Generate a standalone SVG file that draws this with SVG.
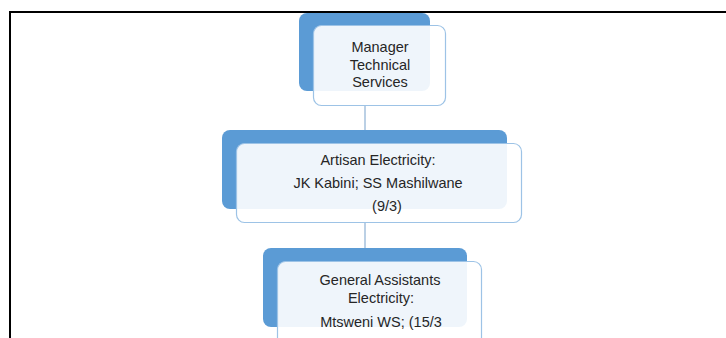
<svg xmlns="http://www.w3.org/2000/svg" width="726" height="338" viewBox="0 0 726 338">
<style>
.back{fill:#5b9bd5;}
.front{fill:#ffffff;fill-opacity:0.9;stroke:#9dc3e6;stroke-width:1.2;}
.lbl{font-family:"Liberation Sans",Arial,sans-serif;font-size:14.5px;fill:#262626;text-anchor:middle;}
.conn{stroke:#a5c0dc;stroke-width:1.5;fill:none;}
.border{stroke:#000000;stroke-width:2;fill:none;}
</style>
<rect width="726" height="338" fill="#ffffff"/>
<g id="frame">
<path class="border" d="M10 338 V12 H726"/>
</g>
<g id="connectors">
<line class="conn" x1="365" y1="106" x2="365" y2="131"/>
<line class="conn" x1="365" y1="223" x2="365" y2="249"/>
</g>
<g id="node-manager">
<rect class="back" x="299" y="13" width="131" height="78" rx="8"/>
<rect class="front" x="313.5" y="25.5" width="132" height="80" rx="8"/>
<text class="lbl" x="380" y="52">Manager</text>
<text class="lbl" x="380" y="70">Technical</text>
<text class="lbl" x="380" y="87">Services</text>
</g>
<g id="node-artisan">
<rect class="back" x="222" y="130" width="285" height="79" rx="8"/>
<rect class="front" x="236.5" y="143.5" width="285" height="79" rx="8"/>
<text class="lbl" x="378" y="165">Artisan Electricity:</text>
<text class="lbl" x="378" y="188">JK Kabini; SS Mashilwane</text>
<text class="lbl" x="387" y="211">(9/3)</text>
</g>
<g id="node-general">
<rect class="back" x="263" y="248" width="204" height="79" rx="8"/>
<rect class="front" x="277.5" y="261.5" width="204" height="90" rx="8"/>
<text class="lbl" x="380" y="285">General Assistants</text>
<text class="lbl" x="381" y="303">Electricity:</text>
<text class="lbl" x="381" y="327">Mtsweni WS; (15/3</text>
</g>
</svg>
